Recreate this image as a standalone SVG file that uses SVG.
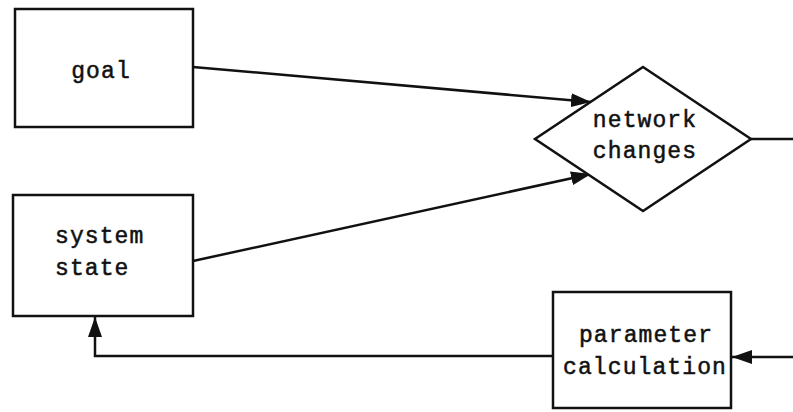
<svg xmlns="http://www.w3.org/2000/svg" width="793" height="412" viewBox="0 0 793 412">
<style>
.box{fill:#fff;stroke:#111;stroke-width:2.5}
.ln{fill:none;stroke:#111;stroke-width:2.5}
text{font-family:"Liberation Mono","Courier New",monospace;font-size:23px;fill:#111;stroke:#111;stroke-width:0.5;letter-spacing:1.1px}
</style>
<defs>
<marker id="ah" viewBox="0 0 20 14" refX="20" refY="7" markerWidth="20" markerHeight="14" markerUnits="userSpaceOnUse" orient="auto">
<path d="M0,0 L20,7 L0,14 Z" fill="#111"/>
</marker>
</defs>
<rect width="793" height="412" fill="#fff"/>
<g id="connectors">
<line class="ln" x1="193" y1="67" x2="591" y2="102" marker-end="url(#ah)"/>
<line class="ln" x1="193" y1="261" x2="591" y2="174" marker-end="url(#ah)"/>
<line class="ln" x1="751" y1="139" x2="793" y2="139"/>
<line class="ln" x1="793" y1="357" x2="732" y2="357" marker-end="url(#ah)"/>
<polyline class="ln" points="553,356 95,356 95,317" marker-end="url(#ah)"/>
</g>
<g id="goal">
<rect class="box" x="15" y="9" width="178" height="118"/>
<text x="101" y="78" text-anchor="middle">goal</text>
</g>
<g id="system-state">
<rect class="box" x="13" y="195" width="180" height="121"/>
<text x="55" y="243">system</text>
<text x="55" y="275">state</text>
</g>
<g id="network-changes">
<polygon class="box" points="643,67 751,139 643,211 535,139"/>
<text x="645" y="127" text-anchor="middle">network</text>
<text x="645" y="158" text-anchor="middle">changes</text>
</g>
<g id="parameter-calculation">
<rect class="box" x="553" y="292" width="178" height="116"/>
<text x="646" y="342" text-anchor="middle">parameter</text>
<text x="645" y="374" text-anchor="middle">calculation</text>
</g>
</svg>
